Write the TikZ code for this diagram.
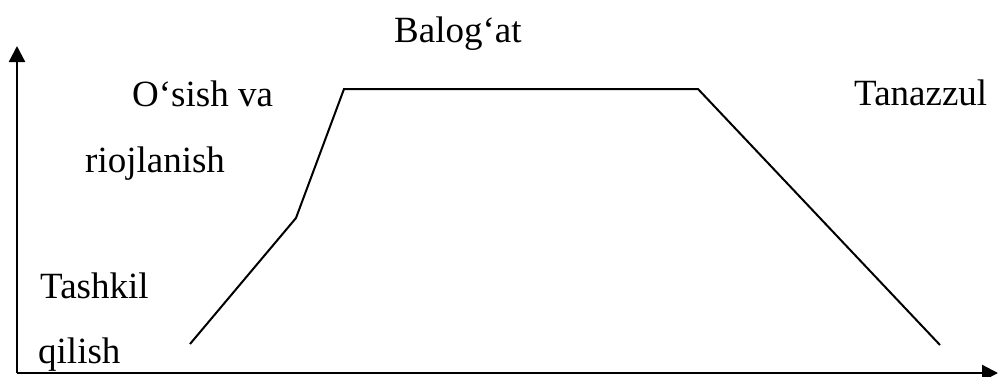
\documentclass[tikz,border=0pt]{standalone}
\usepackage{fontspec}
\setmainfont{Liberation Serif}
\usetikzlibrary{arrows.meta}

\begin{document}
\begin{tikzpicture}[x=1pt,y=-1pt,>={Triangle[length=16pt,width=16pt]},
  every node/.style={font=\fontsize{37}{44}\selectfont,inner sep=0pt,anchor=base west},
  axis/.style={line width=2.4pt},
  stage/.style={line width=2pt,line join=miter}]
\useasboundingbox (0,0) rectangle (998,376);

% axes
\coordinate (o) at (17,373);
\coordinate (ytop) at (17,46);
\coordinate (xend) at (998,373);
\draw[axis,->] (o) -- (ytop);
\draw[axis,->] (o) -- (xend);

% stages
\coordinate (s0) at (190,344);
\coordinate (s1) at (296,218);
\coordinate (s2) at (344,89);
\coordinate (s3) at (698,89);
\coordinate (s4) at (940,345);
\draw[stage] (s0) -- (s1) -- (s2) -- (s3) -- (s4);

% labels
\node (tash) at (40,298) {Tashkil};
\node (qil) at (38,363) {qilish};
\node (osish) at (132,106) {O‘sish va};
\node (rioj) at (85,172) {riojlanish};
\node (bal) at (394,42) {Balog‘at};
\node (tan) at (854,105) {Tanazzul};
\end{tikzpicture}
\end{document}
